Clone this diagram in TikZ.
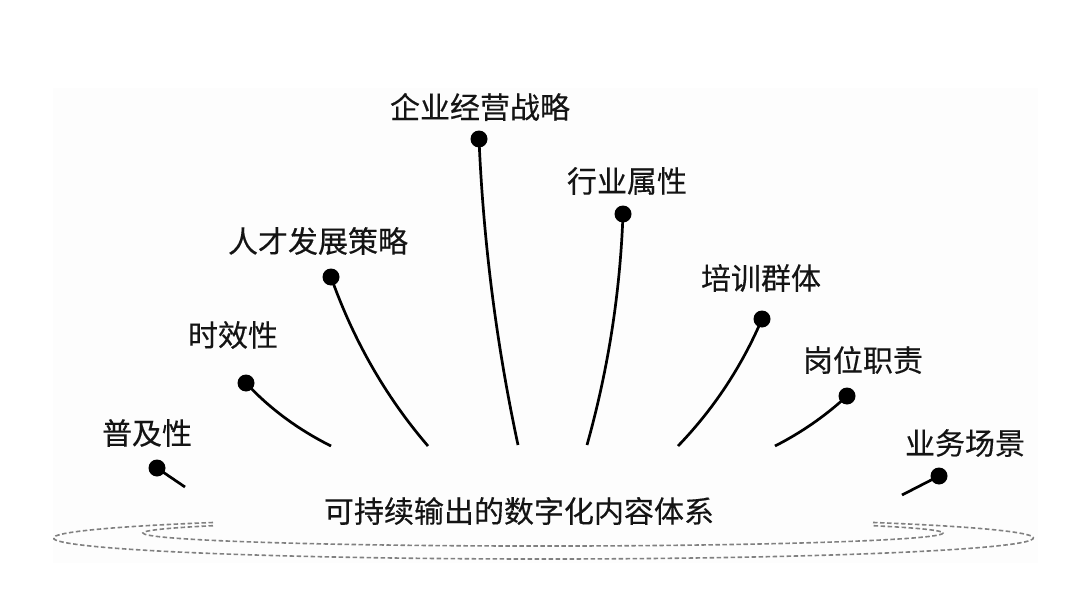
\documentclass[tikz,border=0pt]{standalone}
\usepackage{fontspec}
\setmainfont[FakeBold=0.3]{Noto Sans CJK SC}
\begin{document}
\begin{tikzpicture}[x=1pt,y=-1pt,
  lbl/.style={font=\fontsize{30}{32}\selectfont, inner sep=0pt, text=black!92},
  dot/.style={circle, fill=black, minimum size=17pt, inner sep=0pt},
  stem/.style={line width=2.7pt},
  ring/.style={draw=black!50, line width=1.6pt, dash pattern=on 4.5pt off 2.5pt}]
\useasboundingbox (0,0) rectangle (1080,610);
\fill[black!0.6] (53,88) rectangle (1038,563);
% dashed rings
\draw[ring] (213,522.5) arc[start angle=227.6, end angle=-47.8, x radius=490, y radius=21];
\draw[ring] (213,525.7) arc[start angle=214.4, end angle=-34.4, x radius=400, y radius=13];
% central text
\node[lbl] (core) at (519,511) {可持续输出的数字化内容体系};
% labels
\node[lbl] (l1) at (147,433) {普及性};
\node[lbl] (l2) at (233,335) {时效性};
\node[lbl] (l3) at (318,241) {人才发展策略};
\node[lbl] (l4) at (480,107) {企业经营战略};
\node[lbl] (l5) at (627,181) {行业属性};
\node[lbl] (l6) at (761,278) {培训群体};
\node[lbl] (l7) at (863,360) {岗位职责};
\node[lbl] (l8) at (965,443) {业务场景};
% stem ends
\coordinate (e1) at (185,487);
\coordinate (e2) at (331,446);
\coordinate (e3) at (428,446);
\coordinate (e4) at (518,445);
\coordinate (e5) at (587,445);
\coordinate (e6) at (678,446);
\coordinate (e7) at (775,446);
\coordinate (e8) at (902,495);
% dots
\node[dot] (d1) at (157,468) {};
\node[dot] (d2) at (246,383) {};
\node[dot] (d3) at (331,277) {};
\node[dot] (d4) at (479,139) {};
\node[dot] (d5) at (623,214) {};
\node[dot] (d6) at (762,319) {};
\node[dot] (d7) at (847,396) {};
\node[dot] (d8) at (939,476) {};
% stems
\draw[stem] (d1.center) -- (e1);
\draw[stem] (d2.center) .. controls (270,409) and (299,430) .. (e2);
\draw[stem] (d3.center) .. controls (353,339) and (385,396) .. (e3);
\draw[stem] (d4.center) .. controls (483.4,242.1) and (496.4,344.1) .. (e4);
\draw[stem] (d5.center) .. controls (620.2,292.4) and (608.2,369.4) .. (e5);
\draw[stem] (d6.center) .. controls (741.8,366.4) and (713.8,408.8) .. (e6);
\draw[stem] (d7.center) .. controls (825.3,416) and (801.3,432.6) .. (e7);
\draw[stem] (d8.center) -- (e8);
\end{tikzpicture}
\end{document}
